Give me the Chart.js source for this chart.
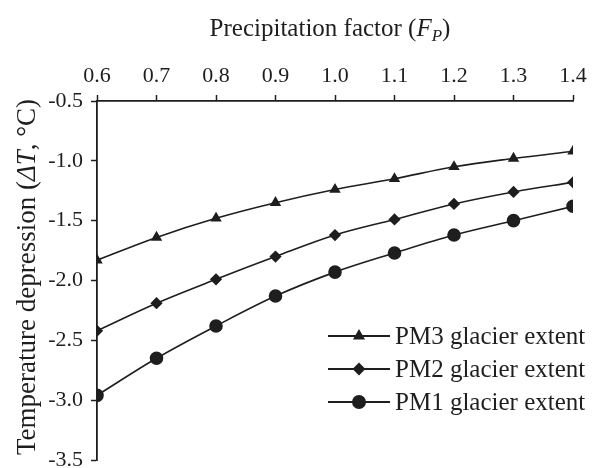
<!DOCTYPE html>
<html lang="en">
<head>
    <meta charset="UTF-8">
    <title>Temperature depression vs precipitation factor</title>
    <script src="https://cdn.jsdelivr.net/npm/chart.js"></script>
    <style>
        html, body {
            margin: 0;
            padding: 0;
            background: #fff;
        }
        .chart-container {
            width: 592px;
            height: 468px;
        }
    </style>
</head>
<body>
    <div class="chart-container">
        <canvas id="tempChart" width="592" height="468"></canvas>
    </div>

    <script>
        // Data
        const precipFactors = [0.6, 0.7, 0.8, 0.9, 1.0, 1.1, 1.2, 1.3, 1.4];
        const pm3Values = [-1.83, -1.64, -1.48, -1.35, -1.24, -1.15, -1.05, -0.98, -0.92];
        const pm2Values = [-2.42, -2.19, -1.99, -1.80, -1.62, -1.49, -1.36, -1.26, -1.18];
        const pm1Values = [-2.96, -2.65, -2.38, -2.13, -1.93, -1.77, -1.62, -1.50, -1.38];
        const seriesLabels = ['PM3 glacier extent', 'PM2 glacier extent', 'PM1 glacier extent'];

        const FONT = "'Liberation Serif', 'Times New Roman', serif";
        const INK = '#1e1e1e';

        function toPoints(values) {
            return precipFactors.map((x, i) => ({ x: x, y: values[i] }));
        }

        function series(label, values, style, radius) {
            return {
                label: label,
                data: toPoints(values),
                borderColor: INK,
                backgroundColor: INK,
                borderWidth: 1.6,
                pointStyle: style,
                pointRadius: radius,
                pointHoverRadius: radius,
                tension: 0.35,
                fill: false
            };
        }

        // Axis titles and legend drawn by hand (italic sub/superscripts, line+marker legend)
        const decorations = {
            id: 'decorations',
            afterDraw(chart) {
                const c = chart.ctx;
                const area = chart.chartArea;
                c.save();
                c.fillStyle = INK;
                c.textBaseline = 'alphabetic';

                // top title: Precipitation factor (F_P)
                const parts = [
                    { t: 'Precipitation factor (', f: '25px ' + FONT, dy: 0 },
                    { t: 'F', f: 'italic 25px ' + FONT, dy: 0 },
                    { t: 'P', f: 'italic 17px ' + FONT, dy: 5 },
                    { t: ')', f: '25px ' + FONT, dy: 0 }
                ];
                let total = 0;
                parts.forEach(p => { c.font = p.f; total += c.measureText(p.t).width; });
                let x = (area.left + area.right) / 2 - 5 - total / 2;
                parts.forEach(p => {
                    c.font = p.f;
                    c.fillText(p.t, x, 36 + p.dy);
                    x += c.measureText(p.t).width;
                });

                // left title: Temperature depression (ΔT, °C)
                const yparts = [
                    { t: 'Temperature depression (', f: '27px ' + FONT },
                    { t: 'ΔT', f: 'italic 27px ' + FONT },
                    { t: ', °C)', f: '27px ' + FONT }
                ];
                let ytotal = 0;
                yparts.forEach(p => { c.font = p.f; ytotal += c.measureText(p.t).width; });
                c.translate(35, 277);
                c.rotate(-Math.PI / 2);
                let yx = -ytotal / 2;
                yparts.forEach(p => {
                    c.font = p.f;
                    c.fillText(p.t, yx, 0);
                    yx += c.measureText(p.t).width;
                });
                c.restore();

                // legend
                c.save();
                c.font = '25px ' + FONT;
                c.textBaseline = 'middle';
                const lx0 = 328, lx1 = 390, tx = 395;
                chart.data.datasets.forEach((ds, i) => {
                    const ly = 336 + i * 33;
                    c.strokeStyle = ds.borderColor;
                    c.lineWidth = 2;
                    c.beginPath();
                    c.moveTo(lx0, ly);
                    c.lineTo(lx1, ly);
                    c.stroke();
                    c.fillStyle = ds.backgroundColor;
                    Chart.helpers.drawPoint(c, {
                        pointStyle: ds.pointStyle,
                        radius: ds.pointRadius,
                        rotation: 0,
                        borderWidth: 1
                    }, (lx0 + lx1) / 2, ly);
                    c.fillStyle = INK;
                    c.fillText(ds.label, tx, ly + 1);
                });
                c.restore();
            }
        };

        const ctx = document.getElementById('tempChart').getContext('2d');
        const tempChart = new Chart(ctx, {
            type: 'line',
            data: {
                datasets: [
                    series(seriesLabels[0], pm3Values, 'triangle', 5),
                    series(seriesLabels[1], pm2Values, 'rectRot', 5),
                    series(seriesLabels[2], pm1Values, 'circle', 6)
                ]
            },
            options: {
                responsive: false,
                animation: false,
                layout: {
                    padding: { top: 0, right: 19, bottom: 8, left: 0 }
                },
                plugins: {
                    legend: { display: false },
                    tooltip: { enabled: false }
                },
                scales: {
                    x: {
                        type: 'linear',
                        position: 'top',
                        min: 0.6,
                        max: 1.4,
                        afterFit(scale) {
                            scale.height = 101;
                            scale.paddingLeft = 0;
                            scale.paddingRight = 0;
                        },
                        ticks: {
                            stepSize: 0.1,
                            color: INK,
                            padding: 6,
                            font: { family: FONT, size: 22 },
                            callback: v => v.toFixed(1)
                        },
                        grid: {
                            drawOnChartArea: false,
                            drawTicks: true,
                            tickLength: 6,
                            tickColor: INK,
                            tickWidth: 1.5
                        },
                        border: { display: true, color: INK, width: 1.8 }
                    },
                    y: {
                        type: 'linear',
                        min: -3.5,
                        max: -0.5,
                        afterFit(scale) {
                            scale.width = 97;
                            scale.paddingTop = 0;
                            scale.paddingBottom = 0;
                        },
                        ticks: {
                            stepSize: 0.5,
                            color: INK,
                            padding: 8,
                            font: { family: FONT, size: 22 },
                            callback: v => v.toFixed(1)
                        },
                        grid: {
                            drawOnChartArea: false,
                            drawTicks: true,
                            tickLength: 6,
                            tickColor: INK,
                            tickWidth: 1.5
                        },
                        border: { display: true, color: INK, width: 1.8 }
                    }
                }
            },
            plugins: [decorations]
        });
    </script>
</body>
</html>
